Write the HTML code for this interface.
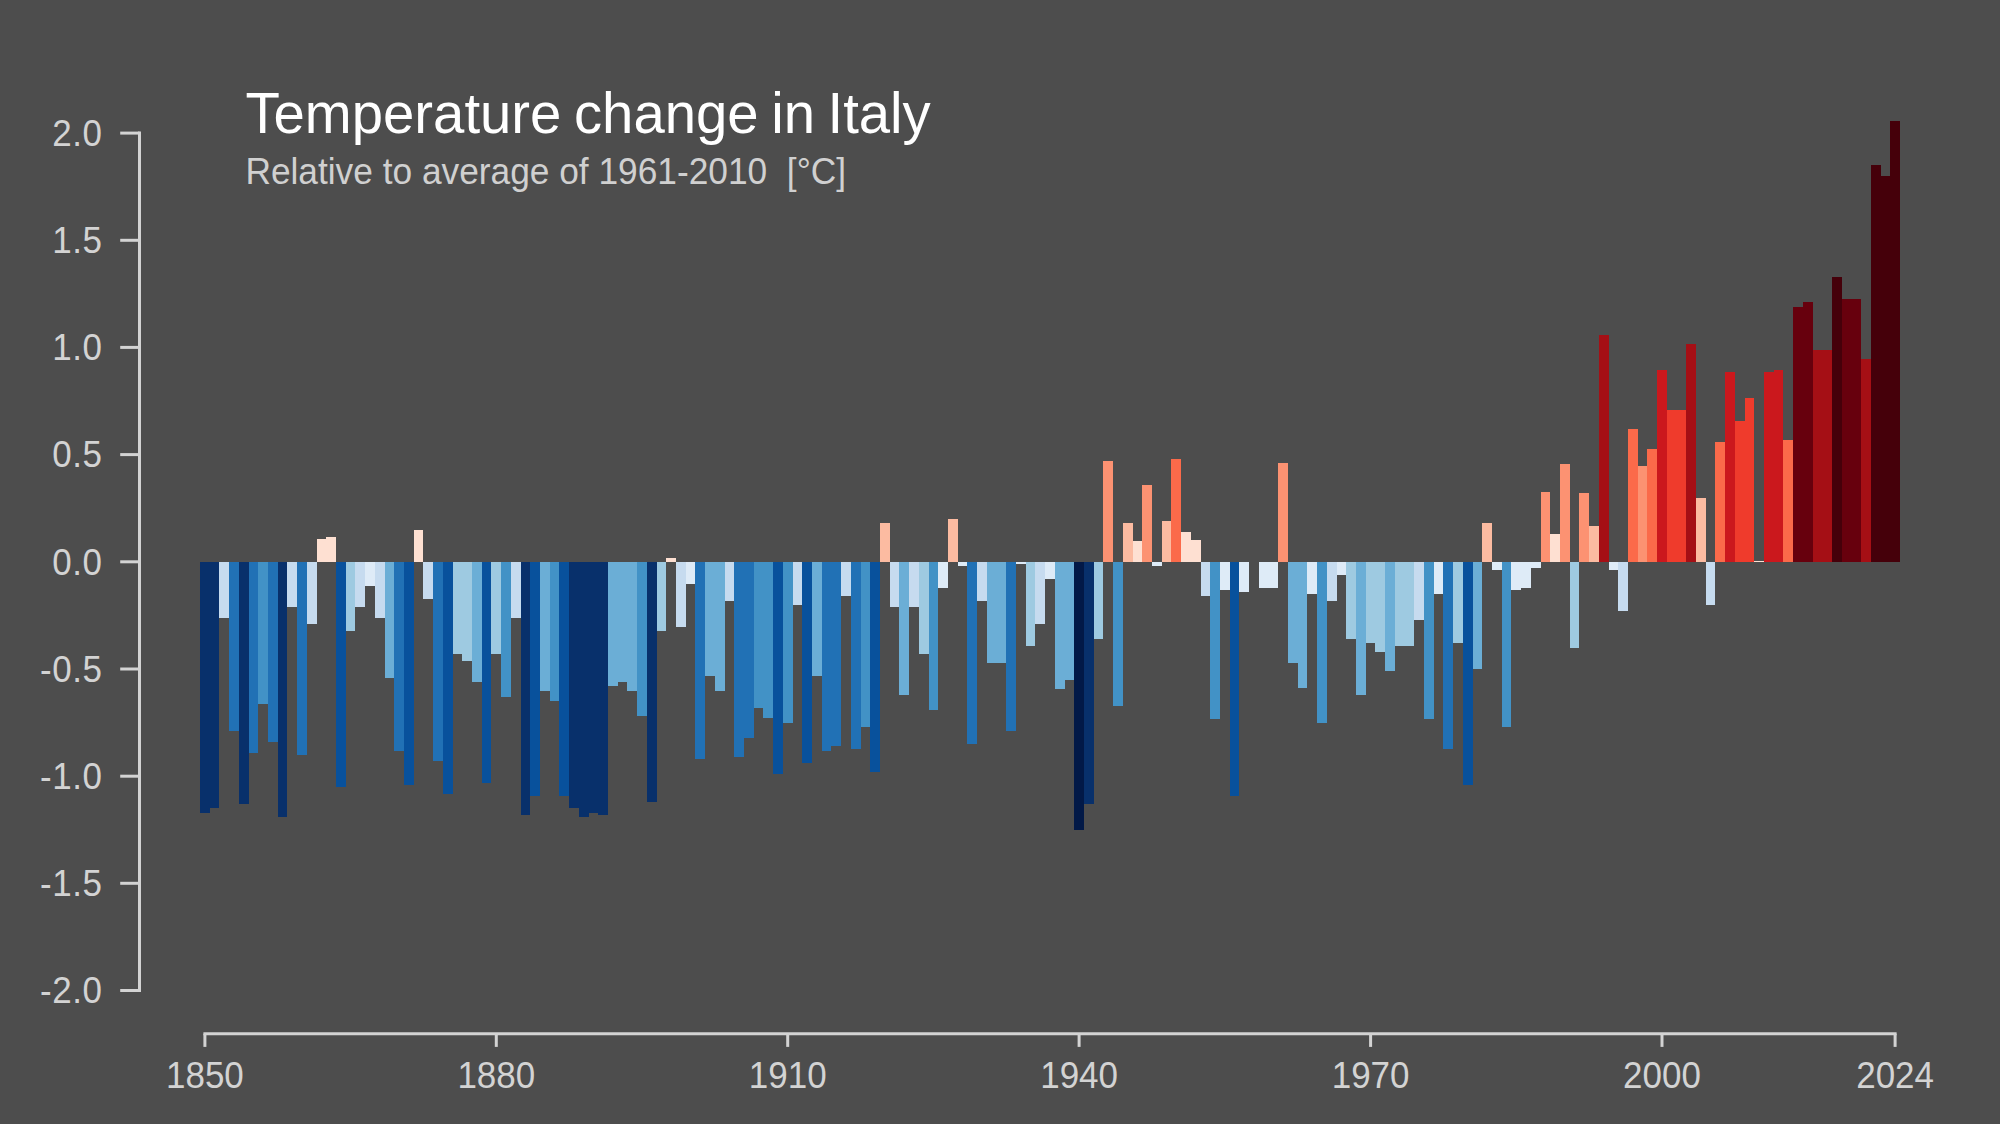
<!DOCTYPE html>
<html><head><meta charset="utf-8"><title>Temperature change in Italy</title>
<style>
html,body{margin:0;padding:0;background:#4d4d4d;}
body{width:2000px;height:1124px;overflow:hidden;font-family:"Liberation Sans",sans-serif;}
svg{display:block}
text{font-family:"Liberation Sans",sans-serif;}
.yl{font-size:35px;letter-spacing:0.6px;fill:#d3d3d3;text-anchor:end}
.xl{font-size:35px;fill:#d3d3d3;text-anchor:middle}
</style></head><body>
<svg width="2000" height="1124" viewBox="0 0 2000 1124">
<rect x="0" y="0" width="2000" height="1124" fill="#4d4d4d"/>
<g shape-rendering="crispEdges">
<rect x="200" y="561.8" width="10" height="251.0" fill="#08306b"/>
<rect x="210" y="561.8" width="9" height="246.3" fill="#08306b"/>
<rect x="219" y="561.8" width="10" height="56.2" fill="#c6dbef"/>
<rect x="229" y="561.8" width="10" height="169.6" fill="#2171b5"/>
<rect x="239" y="561.8" width="10" height="242.0" fill="#08306b"/>
<rect x="249" y="561.8" width="9" height="191.2" fill="#2171b5"/>
<rect x="258" y="561.8" width="10" height="142.1" fill="#4292c6"/>
<rect x="268" y="561.8" width="10" height="180.1" fill="#2171b5"/>
<rect x="278" y="561.8" width="9" height="255.3" fill="#08306b"/>
<rect x="287" y="561.8" width="10" height="45.2" fill="#c6dbef"/>
<rect x="297" y="561.8" width="10" height="193.1" fill="#2171b5"/>
<rect x="307" y="561.8" width="10" height="62.2" fill="#c6dbef"/>
<rect x="317" y="538.6" width="9" height="23.2" fill="#fee0d2"/>
<rect x="326" y="536.5" width="10" height="25.3" fill="#fee0d2"/>
<rect x="336" y="561.8" width="10" height="225.3" fill="#08519c"/>
<rect x="346" y="561.8" width="9" height="69.0" fill="#9ecae1"/>
<rect x="355" y="561.8" width="10" height="45.2" fill="#c6dbef"/>
<rect x="365" y="561.8" width="10" height="24.2" fill="#deebf7"/>
<rect x="375" y="561.8" width="10" height="56.2" fill="#c6dbef"/>
<rect x="385" y="561.8" width="9" height="116.2" fill="#6baed6"/>
<rect x="394" y="561.8" width="10" height="188.9" fill="#2171b5"/>
<rect x="404" y="561.8" width="10" height="222.9" fill="#08519c"/>
<rect x="414" y="530.3" width="9" height="31.5" fill="#fee0d2"/>
<rect x="423" y="561.8" width="10" height="36.7" fill="#c6dbef"/>
<rect x="433" y="561.8" width="10" height="199.1" fill="#2171b5"/>
<rect x="443" y="561.8" width="10" height="231.9" fill="#08519c"/>
<rect x="453" y="561.8" width="9" height="92.6" fill="#9ecae1"/>
<rect x="462" y="561.8" width="10" height="98.8" fill="#9ecae1"/>
<rect x="472" y="561.8" width="10" height="120.3" fill="#6baed6"/>
<rect x="482" y="561.8" width="9" height="221.0" fill="#08519c"/>
<rect x="491" y="561.8" width="10" height="92.6" fill="#9ecae1"/>
<rect x="501" y="561.8" width="10" height="135.0" fill="#4292c6"/>
<rect x="511" y="561.8" width="10" height="56.2" fill="#c6dbef"/>
<rect x="521" y="561.8" width="9" height="252.9" fill="#08306b"/>
<rect x="530" y="561.8" width="10" height="234.1" fill="#08519c"/>
<rect x="540" y="561.8" width="10" height="129.0" fill="#6baed6"/>
<rect x="550" y="561.8" width="9" height="139.3" fill="#4292c6"/>
<rect x="559" y="561.8" width="10" height="234.1" fill="#08519c"/>
<rect x="569" y="561.8" width="10" height="246.3" fill="#08306b"/>
<rect x="579" y="561.8" width="10" height="255.3" fill="#08306b"/>
<rect x="589" y="561.8" width="9" height="251.4" fill="#08306b"/>
<rect x="598" y="561.8" width="10" height="252.9" fill="#08306b"/>
<rect x="608" y="561.8" width="10" height="124.5" fill="#6baed6"/>
<rect x="618" y="561.8" width="9" height="120.3" fill="#6baed6"/>
<rect x="627" y="561.8" width="10" height="128.8" fill="#6baed6"/>
<rect x="637" y="561.8" width="10" height="154.1" fill="#4292c6"/>
<rect x="647" y="561.8" width="10" height="240.1" fill="#08306b"/>
<rect x="657" y="561.8" width="9" height="69.0" fill="#9ecae1"/>
<rect x="666" y="558.2" width="10" height="3.6" fill="#fee0d2"/>
<rect x="676" y="561.8" width="10" height="64.7" fill="#c6dbef"/>
<rect x="686" y="561.8" width="9" height="21.9" fill="#deebf7"/>
<rect x="695" y="561.8" width="10" height="197.2" fill="#2171b5"/>
<rect x="705" y="561.8" width="10" height="114.0" fill="#6baed6"/>
<rect x="715" y="561.8" width="10" height="128.8" fill="#6baed6"/>
<rect x="725" y="561.8" width="9" height="39.0" fill="#c6dbef"/>
<rect x="734" y="561.8" width="10" height="195.1" fill="#2171b5"/>
<rect x="744" y="561.8" width="10" height="176.0" fill="#2171b5"/>
<rect x="754" y="561.8" width="9" height="146.2" fill="#4292c6"/>
<rect x="763" y="561.8" width="10" height="156.5" fill="#4292c6"/>
<rect x="773" y="561.8" width="10" height="212.4" fill="#08519c"/>
<rect x="783" y="561.8" width="10" height="161.2" fill="#4292c6"/>
<rect x="793" y="561.8" width="9" height="43.3" fill="#c6dbef"/>
<rect x="802" y="561.8" width="10" height="201.5" fill="#08519c"/>
<rect x="812" y="561.8" width="10" height="114.0" fill="#6baed6"/>
<rect x="822" y="561.8" width="9" height="189.1" fill="#2171b5"/>
<rect x="831" y="561.8" width="10" height="184.6" fill="#2171b5"/>
<rect x="841" y="561.8" width="10" height="34.5" fill="#c6dbef"/>
<rect x="851" y="561.8" width="10" height="186.9" fill="#2171b5"/>
<rect x="861" y="561.8" width="9" height="165.3" fill="#4292c6"/>
<rect x="870" y="561.8" width="10" height="210.1" fill="#08519c"/>
<rect x="880" y="523.0" width="10" height="38.8" fill="#fcbba1"/>
<rect x="890" y="561.8" width="9" height="45.0" fill="#c6dbef"/>
<rect x="899" y="561.8" width="10" height="133.1" fill="#6baed6"/>
<rect x="909" y="561.8" width="10" height="45.0" fill="#c6dbef"/>
<rect x="919" y="561.8" width="10" height="92.6" fill="#9ecae1"/>
<rect x="929" y="561.8" width="9" height="147.9" fill="#4292c6"/>
<rect x="938" y="561.8" width="10" height="26.4" fill="#deebf7"/>
<rect x="948" y="519.1" width="10" height="42.7" fill="#fcbba1"/>
<rect x="958" y="561.8" width="9" height="4.3" fill="#deebf7"/>
<rect x="967" y="561.8" width="10" height="182.2" fill="#2171b5"/>
<rect x="977" y="561.8" width="10" height="39.0" fill="#c6dbef"/>
<rect x="987" y="561.8" width="10" height="101.0" fill="#6baed6"/>
<rect x="997" y="561.8" width="9" height="101.0" fill="#6baed6"/>
<rect x="1006" y="561.8" width="10" height="169.3" fill="#2171b5"/>
<rect x="1016" y="561.8" width="10" height="2.1" fill="#deebf7"/>
<rect x="1026" y="561.8" width="9" height="84.0" fill="#9ecae1"/>
<rect x="1035" y="561.8" width="10" height="62.4" fill="#c6dbef"/>
<rect x="1045" y="561.8" width="10" height="17.6" fill="#deebf7"/>
<rect x="1055" y="561.8" width="10" height="126.7" fill="#6baed6"/>
<rect x="1065" y="561.8" width="9" height="118.3" fill="#6baed6"/>
<rect x="1074" y="561.8" width="10" height="268.2" fill="#021947"/>
<rect x="1084" y="561.8" width="10" height="242.4" fill="#08306b"/>
<rect x="1094" y="561.8" width="9" height="77.4" fill="#9ecae1"/>
<rect x="1103" y="461.3" width="10" height="100.5" fill="#fc9272"/>
<rect x="1113" y="561.8" width="10" height="144.3" fill="#4292c6"/>
<rect x="1123" y="523.0" width="10" height="38.8" fill="#fcbba1"/>
<rect x="1133" y="540.6" width="9" height="21.2" fill="#fee0d2"/>
<rect x="1142" y="485.1" width="10" height="76.7" fill="#fc9272"/>
<rect x="1152" y="561.8" width="10" height="4.3" fill="#deebf7"/>
<rect x="1162" y="521.1" width="9" height="40.7" fill="#fcbba1"/>
<rect x="1171" y="459.1" width="10" height="102.7" fill="#fb6a4a"/>
<rect x="1181" y="532.2" width="10" height="29.6" fill="#fee0d2"/>
<rect x="1191" y="540.4" width="10" height="21.4" fill="#fee0d2"/>
<rect x="1201" y="561.8" width="9" height="33.9" fill="#c6dbef"/>
<rect x="1210" y="561.8" width="10" height="156.7" fill="#4292c6"/>
<rect x="1220" y="561.8" width="10" height="28.1" fill="#deebf7"/>
<rect x="1230" y="561.8" width="9" height="234.1" fill="#08519c"/>
<rect x="1239" y="561.8" width="10" height="30.2" fill="#deebf7"/>
<rect x="1259" y="561.8" width="10" height="25.7" fill="#deebf7"/>
<rect x="1269" y="561.8" width="9" height="25.7" fill="#deebf7"/>
<rect x="1278" y="463.4" width="10" height="98.4" fill="#fc9272"/>
<rect x="1288" y="561.8" width="10" height="101.2" fill="#6baed6"/>
<rect x="1298" y="561.8" width="9" height="126.0" fill="#6baed6"/>
<rect x="1307" y="561.8" width="10" height="31.9" fill="#deebf7"/>
<rect x="1317" y="561.8" width="10" height="161.0" fill="#4292c6"/>
<rect x="1327" y="561.8" width="10" height="38.8" fill="#c6dbef"/>
<rect x="1337" y="561.8" width="9" height="12.9" fill="#deebf7"/>
<rect x="1346" y="561.8" width="10" height="77.0" fill="#9ecae1"/>
<rect x="1356" y="561.8" width="10" height="133.1" fill="#6baed6"/>
<rect x="1366" y="561.8" width="9" height="81.2" fill="#9ecae1"/>
<rect x="1375" y="561.8" width="10" height="89.8" fill="#9ecae1"/>
<rect x="1385" y="561.8" width="10" height="109.3" fill="#6baed6"/>
<rect x="1395" y="561.8" width="10" height="84.0" fill="#9ecae1"/>
<rect x="1405" y="561.8" width="9" height="84.0" fill="#9ecae1"/>
<rect x="1414" y="561.8" width="10" height="57.9" fill="#c6dbef"/>
<rect x="1424" y="561.8" width="10" height="156.7" fill="#4292c6"/>
<rect x="1434" y="561.8" width="9" height="31.9" fill="#deebf7"/>
<rect x="1443" y="561.8" width="10" height="186.7" fill="#2171b5"/>
<rect x="1453" y="561.8" width="10" height="81.2" fill="#9ecae1"/>
<rect x="1463" y="561.8" width="10" height="222.9" fill="#08519c"/>
<rect x="1473" y="561.8" width="9" height="107.0" fill="#6baed6"/>
<rect x="1482" y="523.0" width="10" height="38.8" fill="#fcbba1"/>
<rect x="1492" y="561.8" width="10" height="8.6" fill="#deebf7"/>
<rect x="1502" y="561.8" width="9" height="165.1" fill="#4292c6"/>
<rect x="1511" y="561.8" width="10" height="28.1" fill="#deebf7"/>
<rect x="1521" y="561.8" width="10" height="25.7" fill="#deebf7"/>
<rect x="1531" y="561.8" width="10" height="6.6" fill="#deebf7"/>
<rect x="1541" y="491.5" width="9" height="70.3" fill="#fc9272"/>
<rect x="1550" y="534.4" width="10" height="27.4" fill="#fee0d2"/>
<rect x="1560" y="463.6" width="10" height="98.2" fill="#fc9272"/>
<rect x="1570" y="561.8" width="9" height="85.7" fill="#9ecae1"/>
<rect x="1579" y="493.4" width="10" height="68.4" fill="#fc9272"/>
<rect x="1589" y="526.4" width="10" height="35.4" fill="#fcbba1"/>
<rect x="1599" y="335.2" width="10" height="226.6" fill="#a50f15"/>
<rect x="1609" y="561.8" width="9" height="8.6" fill="#deebf7"/>
<rect x="1618" y="561.8" width="10" height="49.3" fill="#c6dbef"/>
<rect x="1628" y="429.1" width="10" height="132.7" fill="#fb6a4a"/>
<rect x="1638" y="466.0" width="9" height="95.8" fill="#fc9272"/>
<rect x="1647" y="448.6" width="10" height="113.2" fill="#fb6a4a"/>
<rect x="1657" y="369.7" width="10" height="192.1" fill="#cb181d"/>
<rect x="1667" y="410.2" width="10" height="151.6" fill="#ef3b2c"/>
<rect x="1677" y="410.2" width="9" height="151.6" fill="#ef3b2c"/>
<rect x="1686" y="343.8" width="10" height="218.0" fill="#a50f15"/>
<rect x="1696" y="498.1" width="10" height="63.7" fill="#fcbba1"/>
<rect x="1706" y="561.8" width="9" height="43.5" fill="#c6dbef"/>
<rect x="1715" y="442.4" width="10" height="119.4" fill="#fb6a4a"/>
<rect x="1725" y="371.7" width="10" height="190.1" fill="#cb181d"/>
<rect x="1735" y="421.2" width="10" height="140.6" fill="#ef3b2c"/>
<rect x="1745" y="397.6" width="9" height="164.2" fill="#ef3b2c"/>
<rect x="1754" y="560.5" width="10" height="1.3" fill="#fee0d2"/>
<rect x="1764" y="371.7" width="10" height="190.1" fill="#cb181d"/>
<rect x="1774" y="369.7" width="9" height="192.1" fill="#cb181d"/>
<rect x="1783" y="440.0" width="10" height="121.8" fill="#fb6a4a"/>
<rect x="1793" y="306.9" width="10" height="254.9" fill="#67000d"/>
<rect x="1803" y="302.4" width="10" height="259.4" fill="#67000d"/>
<rect x="1813" y="350.4" width="9" height="211.4" fill="#a50f15"/>
<rect x="1822" y="350.4" width="10" height="211.4" fill="#a50f15"/>
<rect x="1832" y="277.1" width="10" height="284.7" fill="#45000a"/>
<rect x="1842" y="298.6" width="9" height="263.2" fill="#67000d"/>
<rect x="1851" y="298.6" width="10" height="263.2" fill="#67000d"/>
<rect x="1861" y="359.0" width="10" height="202.8" fill="#a50f15"/>
<rect x="1871" y="165.2" width="10" height="396.6" fill="#45000a"/>
<rect x="1881" y="176.0" width="9" height="385.8" fill="#45000a"/>
<rect x="1890" y="120.9" width="10" height="440.9" fill="#45000a"/>
</g>
<g stroke="#d3d3d3" stroke-width="3" fill="none" stroke-linecap="butt">
<path d="M139.5 131.5V992.1"/>
<path d="M120.2 133.1H139.5"/>
<path d="M120.2 240.3H139.5"/>
<path d="M120.2 347.4H139.5"/>
<path d="M120.2 454.6H139.5"/>
<path d="M120.2 561.8H139.5"/>
<path d="M120.2 669.0H139.5"/>
<path d="M120.2 776.2H139.5"/>
<path d="M120.2 883.3H139.5"/>
<path d="M120.2 990.5H139.5"/>
<path d="M203.4 1033.7H1896.6"/>
<path d="M204.9 1033.7V1046.9"/>
<path d="M496.3 1033.7V1046.9"/>
<path d="M787.7 1033.7V1046.9"/>
<path d="M1079.1 1033.7V1046.9"/>
<path d="M1370.6 1033.7V1046.9"/>
<path d="M1662.0 1033.7V1046.9"/>
<path d="M1895.1 1033.7V1046.9"/>
</g>
<text class="yl" transform="translate(102.6 145.8) scale(1 1.03)">2.0</text>
<text class="yl" transform="translate(102.6 253.0) scale(1 1.03)">1.5</text>
<text class="yl" transform="translate(102.6 360.1) scale(1 1.03)">1.0</text>
<text class="yl" transform="translate(102.6 467.3) scale(1 1.03)">0.5</text>
<text class="yl" transform="translate(102.6 574.5) scale(1 1.03)">0.0</text>
<text class="yl" transform="translate(102.6 681.7) scale(1 1.03)">-0.5</text>
<text class="yl" transform="translate(102.6 788.9) scale(1 1.03)">-1.0</text>
<text class="yl" transform="translate(102.6 896.0) scale(1 1.03)">-1.5</text>
<text class="yl" transform="translate(102.6 1003.2) scale(1 1.03)">-2.0</text>
<text class="xl" transform="translate(204.9 1088) scale(1 1.03)">1850</text>
<text class="xl" transform="translate(496.3 1088) scale(1 1.03)">1880</text>
<text class="xl" transform="translate(787.7 1088) scale(1 1.03)">1910</text>
<text class="xl" transform="translate(1079.1 1088) scale(1 1.03)">1940</text>
<text class="xl" transform="translate(1370.6 1088) scale(1 1.03)">1970</text>
<text class="xl" transform="translate(1662.0 1088) scale(1 1.03)">2000</text>
<text class="xl" transform="translate(1895.1 1088) scale(1 1.03)">2024</text>
<text transform="translate(245.4 132.6) scale(1 1.025)" font-size="56.3" word-spacing="-3.1" fill="#ffffff">Temperature change in Italy</text>
<text transform="translate(245.4 183.8) scale(1 1.04)" font-size="35.3" fill="#d0d0d0" xml:space="preserve" style="white-space:pre">Relative to average of 1961-2010  [°C]</text>
</svg></body></html>
